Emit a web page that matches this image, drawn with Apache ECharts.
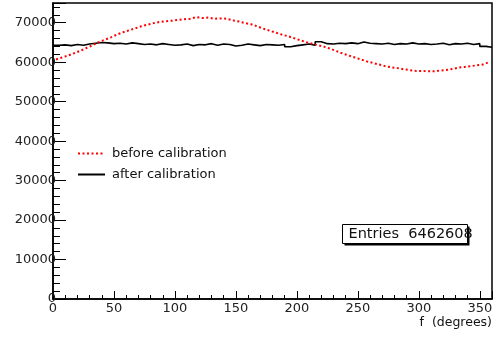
<!DOCTYPE html>
<html>
<head>
<meta charset="utf-8">
<script src="https://cdn.jsdelivr.net/npm/echarts@6/dist/echarts.min.js"></script>
<style>
  html, body { margin: 0; padding: 0; background: #fff; }
  #chart { width: 500px; height: 337px; }
</style>
</head>
<body>
<div id="chart"></div>
<script>
var binWidth = 5;
var beforeCal = [
  60700, 61200, 61700, 62300, 62900, 63600, 64300, 65100, 65700, 66300, 67000, 67600,
  68100, 68600, 69100, 69500, 69900, 70200, 70400, 70500, 70700, 70900, 71000, 71400,
  71200, 71300, 71000, 71100, 71000, 70600, 70300, 69900, 69600, 69100, 68500, 68000,
  67500, 67000, 66600, 66100, 65600, 65100, 64700, 64300, 63900, 63400, 62800, 62200,
  61700, 61200, 60700, 60200, 59800, 59400, 59000, 58700, 58500, 58200, 58000, 57800,
  57800, 57700, 57700, 57900, 58000, 58300, 58600, 58800, 59000, 59200, 59400, 60000
];
var afterCal = [
  64300, 64400, 64200, 64500, 64300, 64600, 64800, 65000, 64900, 64700, 64800, 64600,
  64900, 64700, 64500, 64600, 64400, 64700, 64500, 64300, 64400, 64600, 64200, 64500,
  64400, 64700, 64300, 64600, 64500, 64100, 64300, 64600, 64400, 64200, 64500, 64400,
  64300, 64500, 63900, 64200, 64400, 64600, 64300, 65200, 64700, 64600, 64800, 64700,
  64900, 64700, 65100, 64800, 64700, 64600, 64800, 64500, 64700, 64600, 64900, 64600,
  64700, 64500, 64600, 64800, 64400, 64700, 64600, 64800, 64500, 64700, 64000, 63800
];
var seriesNames = ['before calibration', 'after calibration'];
var entriesText = 'Entries  6462608';

var fonte = 'DejaVu Sans';

// pontos nos centros dos bins (linha pontilhada)
var dadosAntes = beforeCal.map(function (v, i) { return [i * binWidth + binWidth / 2, v]; });
// histograma em degraus: borda inferior de cada bin + borda final
var dadosDepois = afterCal.map(function (v, i) { return [i * binWidth, v]; });
dadosDepois.push([afterCal.length * binWidth, afterCal[afterCal.length - 1]]);

var myChart = echarts.init(document.getElementById('chart'), null, { renderer: 'canvas' });
var option = {
  animation: false,
  backgroundColor: '#fff',
  grid: {
    left: 53, right: 8, top: 3, bottom: 38,
    show: true, borderColor: '#000', borderWidth: 1.5, backgroundColor: 'transparent'
  },
  legend: {
    orient: 'vertical',
    left: 77, top: 147, padding: 0,
    itemWidth: 27, itemHeight: 14, itemGap: 8,
    itemStyle: { opacity: 0 },
    textStyle: { fontFamily: fonte, fontSize: 13, color: '#111', padding: [0, 0, 0, 2] },
    data: seriesNames
  },
  xAxis: {
    type: 'value',
    min: 0, max: 360, interval: 50,
    name: 'f  (degrees)',
    nameLocation: 'end',
    nameGap: 0,
    nameTextStyle: {
      fontFamily: fonte, fontSize: 12.5, color: '#111',
      align: 'right', verticalAlign: 'top', padding: [17, 0, 0, 0]
    },
    axisLine: { lineStyle: { color: '#000', width: 1.5 } },
    axisTick: { inside: true, length: 8, lineStyle: { color: '#000', width: 1 } },
    minorTick: { show: true, splitNumber: 5, length: 4, lineStyle: { color: '#000', width: 1 } },
    axisLabel: { fontFamily: fonte, fontSize: 13, color: '#222', margin: 3, showMaxLabel: false },
    splitLine: { show: false }
  },
  yAxis: {
    type: 'value',
    min: 0, max: 75000, interval: 10000,
    axisLine: { show: true, lineStyle: { color: '#000', width: 1.5 } },
    axisTick: { show: true, inside: true, length: 13, lineStyle: { color: '#000', width: 1 } },
    minorTick: { show: true, splitNumber: 5, length: 7, lineStyle: { color: '#000', width: 1 } },
    axisLabel: {
      fontFamily: fonte, fontSize: 13, color: '#222', margin: -3, showMaxLabel: false,
      formatter: function (v) { return String(v); }
    },
    splitLine: { show: false }
  },
  series: [
    {
      name: seriesNames[0],
      type: 'line',
      data: dadosAntes,
      symbol: 'none',
      color: '#ff0000',
      lineStyle: { color: '#ff0000', width: 2, type: [2, 2.5] },
      z: 3
    },
    {
      name: seriesNames[1],
      type: 'line',
      data: dadosDepois,
      step: 'end',
      symbol: 'none',
      color: '#000',
      lineStyle: { color: '#000', width: 1.6 },
      z: 2
    }
  ],
  graphic: [
    {
      type: 'group',
      left: 342, top: 224,
      children: [
        { type: 'rect', shape: { x: 2, y: 2, width: 125, height: 19 }, style: { fill: '#000' } },
        { type: 'rect', shape: { x: 0, y: 0, width: 125, height: 19 }, style: { fill: '#fff', stroke: '#000', lineWidth: 1 } },
        {
          type: 'text', x: 6, y: 10,
          style: { text: entriesText, font: '14.5px "DejaVu Sans"', fill: '#111', verticalAlign: 'middle' }
        }
      ]
    }
  ]
};

myChart.setOption(option);
</script>
</body>
</html>
